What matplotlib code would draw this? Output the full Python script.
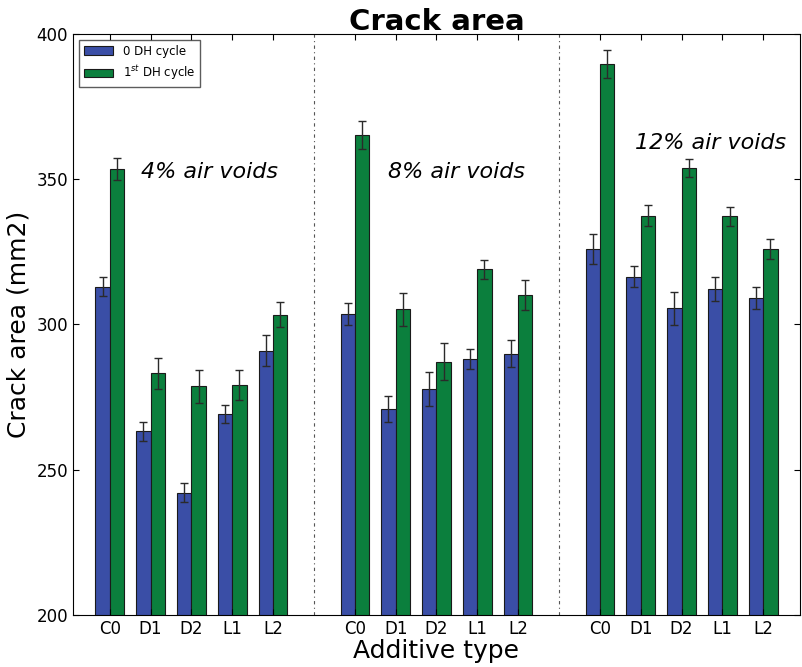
import numpy as np
import matplotlib
matplotlib.use("Agg")
import matplotlib.pyplot as plt

# crack area per additive, three air-void contents
additives = ["C0", "D1", "D2", "L1", "L2"]
voids = ["4% air voids", "8% air voids", "12% air voids"]

cycle0 = [313.0, 263.3, 242.1, 269.2, 291.0,
          303.5, 270.9, 277.8, 288.0, 290.0,
          326.0, 316.5, 305.6, 312.1, 309.2]
cycle0_err = [3.2, 3.3, 3.2, 3.1, 5.3,
              3.8, 4.5, 5.7, 3.4, 4.5,
              5.2, 3.6, 5.7, 4.1, 3.8]
cycle1 = [353.4, 283.2, 278.8, 279.1, 303.3,
          365.2, 305.2, 287.2, 319.0, 310.2,
          389.7, 337.5, 354.0, 337.2, 326.0]
cycle1_err = [3.8, 5.4, 5.7, 5.2, 4.3,
              4.9, 5.8, 6.3, 3.3, 5.1,
              4.9, 3.7, 3.1, 3.2, 3.3]

# positions: 5 bars per group, one empty slot between groups
pos = np.concatenate([np.arange(5) + 6 * g for g in range(3)])
width = 0.35

fig = plt.figure(figsize=(8.02, 6.67), dpi=100)
ax = fig.add_axes([0.091, 0.078, 0.9065, 0.871])

ax.bar(pos - width, cycle0, width, align="edge", color="#3a4ea6",
       edgecolor="#1a1a1a", linewidth=0.8, label="0 DH cycle")
ax.bar(pos, cycle1, width, align="edge", color="#0b7f3d",
       edgecolor="#1a1a1a", linewidth=0.8, label="1$^{st}$ DH cycle")
ax.errorbar(pos - width / 2, cycle0, yerr=cycle0_err, fmt="none",
            ecolor="#2a2a2a", elinewidth=1, capsize=3)
ax.errorbar(pos + width / 2, cycle1, yerr=cycle1_err, fmt="none",
            ecolor="#2a2a2a", elinewidth=1, capsize=3)

# group separators
for xs in [5, 11]:
    ax.axvline(xs, color="#555555", linestyle=(0, (3, 3, 1, 3)), linewidth=0.8)

# group labels
text_pos = [(2.45, 352.5), (8.5, 352.5), (14.7, 362.5)]
for label, (tx, ty) in zip(voids, text_pos):
    ax.text(tx, ty, label, fontsize=16, style="italic",
            ha="center", va="center")

ax.set_xlim(-0.9, 16.9)
ax.set_ylim(200, 400)
ax.set_xticks(pos)
ax.set_xticklabels(additives * 3, fontsize=12)
ax.set_yticks(np.arange(200, 401, 50))
ax.tick_params(axis="y", labelsize=12)
ax.tick_params(direction="in", top=True, right=True, length=4)

ax.set_xlabel("Additive type", fontsize=18, labelpad=1)
ax.set_ylabel("Crack area (mm2)", fontsize=18)
ax.set_title("Crack area", fontsize=21, fontweight="bold", pad=3)
ax.legend(loc="upper left", fontsize=8.5, fancybox=False,
          edgecolor="#333333", handlelength=2.5)

fig.savefig("out.png", dpi=100)
